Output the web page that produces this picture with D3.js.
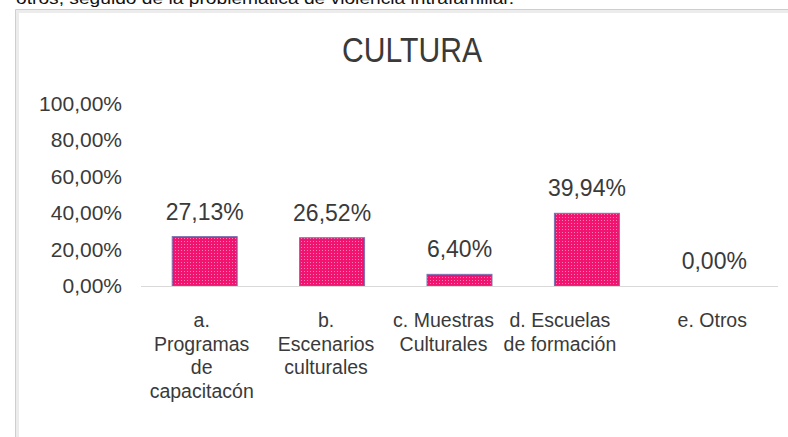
<!DOCTYPE html>
<html>
<head>
<meta charset="utf-8">
<script src="https://cdn.jsdelivr.net/npm/d3@7"></script>
<style>
  html, body { margin: 0; padding: 0; background: #ffffff; }
  svg { display: block; }
  text { font-family: "Liberation Sans", Arial, sans-serif; fill: #3a3a3a; }
  .title { font-size: 35px; }
  .tick-label { font-size: 21px; }
  .value-label { font-size: 23px; }
  .cat-label { font-size: 19.5px; }
  .doc-text { font-size: 16px; fill: #111111; }
</style>
</head>
<body>
<div id="chart"></div>
<script>
// chart data
const categories = ["a. Programas de capacitacón", "b. Escenarios culturales", "c. Muestras Culturales", "d. Escuelas de formación", "e. Otros"];
const categoryLines = [["a.", "Programas", "de", "capacitacón"], ["b.", "Escenarios", "culturales"], ["c. Muestras", "Culturales"], ["d. Escuelas", "de formación"], ["e. Otros"]];
const values = [27.13, 26.52, 6.40, 39.94, 0.00];
const yTicks = [0, 20, 40, 60, 80, 100];
const chartTitle = "CULTURA";
const docLine = "otros, seguido de la problemática de violencia intrafamiliar.";

// layout only
const labelShift = [-3, -6, -16, -27, -2];

const width = 788, height = 437;
const locale = d3.formatLocale({ decimal: ",", thousands: ".", grouping: [3], currency: ["", ""] });
const pct = v => locale.format(".2f")(v) + "%";

const svg = d3.select("#chart").append("svg")
    .attr("width", width)
    .attr("height", height);

// dotted fill like the original bars
const defs = svg.append("defs");
const pat = defs.append("pattern")
    .attr("id", "dots")
    .attr("width", 3)
    .attr("height", 3)
    .attr("patternUnits", "userSpaceOnUse");
pat.append("rect").attr("width", 3).attr("height", 3).attr("fill", "#f0136f");
pat.append("rect").attr("x", 1).attr("y", 1).attr("width", 1).attr("height", 1).attr("fill", "#ff7fb0");

// cut-off line of document text above the chart (clipped in the reference too)
svg.append("text")
    .attr("class", "doc-text")
    .attr("x", 16)
    .attr("y", 4)
    .attr("textLength", 498)
    .attr("lengthAdjust", "spacingAndGlyphs")
    .text(docLine);

// chart frame (left and top edges visible)
svg.append("path")
    .attr("d", `M17.5,${height} V11.5 H${width}`)
    .attr("fill", "none")
    .attr("stroke", "#ececec")
    .attr("stroke-width", 3);
svg.append("path")
    .attr("d", `M15.5,${height} V9.5 H${width}`)
    .attr("fill", "none")
    .attr("stroke", "#cfcfcf")
    .attr("stroke-width", 1);

// narrow title, squeezed to the original's width
svg.append("text")
    .attr("class", "title")
    .attr("x", 342)
    .attr("y", 62)
    .attr("textLength", 140)
    .attr("lengthAdjust", "spacingAndGlyphs")
    .text(chartTitle);

const x = d3.scaleBand()
    .domain(categories)
    .range([141, 778])
    .padding(0);

const y = d3.scaleLinear()
    .domain([0, 100])
    .range([286, 104]);

const barW = x.bandwidth() * 0.51;

// y tick labels (no axis line, no grid)
svg.append("g")
    .selectAll("text")
    .data(yTicks)
    .join("text")
    .attr("class", "tick-label")
    .attr("x", 122)
    .attr("y", d => y(d) + 7)
    .attr("text-anchor", "end")
    .text(d => pct(d));

// bars
svg.append("g")
    .selectAll("rect")
    .data(values)
    .join("rect")
    .attr("x", (d, i) => x(categories[i]) + (x.bandwidth() - barW) / 2)
    .attr("y", d => y(d))
    .attr("width", barW)
    .attr("height", d => y(0) - y(d))
    .attr("fill", "url(#dots)")
    .attr("stroke", "#7474b4")
    .attr("stroke-width", d => d > 0 ? 1 : 0);

// category axis line
svg.append("line")
    .attr("x1", x.range()[0])
    .attr("x2", x.range()[1])
    .attr("y1", y(0) + 0.5)
    .attr("y2", y(0) + 0.5)
    .attr("stroke", "#d9d9d9")
    .attr("stroke-width", 1);

// value labels
svg.append("g")
    .selectAll("text")
    .data(values)
    .join("text")
    .attr("class", "value-label")
    .attr("x", (d, i) => x(categories[i]) + x.bandwidth() / 2)
    .attr("y", d => y(d) - 17)
    .attr("text-anchor", "middle")
    .text(d => pct(d));

// wrapped category labels
const catG = svg.append("g")
    .selectAll("text")
    .data(categories)
    .join("text")
    .attr("class", "cat-label")
    .attr("text-anchor", "middle")
    .attr("x", (d, i) => x(d) + x.bandwidth() / 2 + labelShift[i])
    .attr("y", y(0) + 41);

catG.selectAll("tspan")
    .data((d, i) => categoryLines[i])
    .join("tspan")
    .attr("x", function () { return d3.select(this.parentNode).attr("x"); })
    .attr("dy", (d, j) => j === 0 ? 0 : 23.5)
    .text(d => d);
</script>
</body>
</html>
